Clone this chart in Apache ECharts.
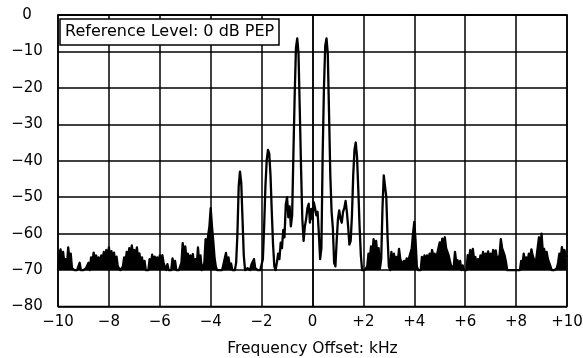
<!DOCTYPE html>
<html>
<head>
<meta charset="utf-8">
<script src="https://cdn.jsdelivr.net/npm/echarts@6/dist/echarts.min.js"></script>
<style>
html,body{margin:0;padding:0;background:#fff;}
#chart{width:583px;height:358px;}
</style>
</head>
<body>
<div id="chart"></div>
<script>
// Frequency grid of the trace (kHz): first sample and spacing
const freqStart = -10;
const freqStep = 0.05;

const levelDb = [
  -70, -66, -64.3, -67, -65, -68, -67, -69, -63.8, -67,
  -65.5, -69.5, -70, -70, -69.5, -70, -70, -68, -70, -70,
  -70, -70, -69.5, -70, -68, -70, -66.5, -68, -65.2, -67,
  -66, -68, -66.5, -69, -66, -67.5, -65, -67, -64.5, -66.5,
  -63.8, -66.5, -64.8, -67, -65.2, -68, -66.3, -69, -69.5, -70,
  -70, -69, -66.5, -68, -65, -67, -64, -66, -63.2, -66,
  -64.5, -66.5, -63.8, -67, -65.4, -68, -66.5, -69, -67.5, -70,
  -70, -70, -67, -68.5, -65.8, -68, -66.3, -68, -66.5, -68,
  -66, -67.5, -65.9, -68, -68.5, -70, -68.4, -70, -69.5, -70,
  -66.8, -69, -67.5, -70, -70, -70, -69, -68, -62.6, -66,
  -63.5, -67, -65.5, -68, -66, -68, -65.6, -69, -67, -69,
  -63.8, -68, -66, -70, -69, -68, -61.5, -64, -60.5, -58,
  -53, -58, -62, -66.5, -69, -70, -69.5, -70, -70, -70,
  -68.5, -69, -65.3, -68, -66.5, -69, -68.2, -70, -70, -70,
  -68, -60, -47, -43, -46, -56, -66, -70, -70, -69.5,
  -70, -70, -68.5, -69, -67, -69.5, -69.5, -70, -70, -70,
  -70, -67, -58, -47, -40, -37, -38, -44, -54, -63,
  -69, -70, -68, -65.5, -67, -62.5, -64, -59, -61, -52,
  -50, -55.5, -52.5, -58, -55, -38, -22, -9, -6.4, -10.5,
  -26, -42, -56, -62, -58, -56, -53, -51.8, -57, -53.2,
  -56, -51.4, -53, -55, -54, -60, -67, -64, -38, -20,
  -8.5, -6.4, -10.5, -27, -44, -54, -58.5, -68, -69, -62,
  -56, -53.6, -56, -57, -54, -53, -51, -54, -58, -63,
  -62, -55, -44, -37, -35, -39, -48, -58, -66, -70,
  -70, -70, -70, -69, -65.5, -67, -63.5, -66, -61.5, -64,
  -62, -66, -64, -69.5, -67, -53, -44, -43.5, -50, -61,
  -69, -70, -65, -67.5, -65.5, -68, -66.4, -68, -64.2, -67,
  -66.8, -68.5, -67.5, -68.5, -66.8, -68, -66.5, -67, -64, -60,
  -56.8, -62, -69, -70, -69.5, -70, -66.4, -68, -66, -68,
  -66, -67.5, -65.5, -67, -64.5, -66.5, -65.5, -67, -65.5, -66,
  -62.4, -64, -61.4, -63, -61, -64, -63.8, -66, -66, -69,
  -68.7, -69, -65, -68, -67.3, -69, -67.5, -70, -68.7, -70,
  -70, -70, -65.9, -67, -64.5, -66, -64.2, -67, -66.4, -69,
  -67, -68, -66, -67.5, -65, -67, -65.5, -66.5, -64.9, -67,
  -65.5, -67, -64.5, -66, -64.6, -67, -67, -66, -61.5, -64,
  -63.5, -66, -67.7, -70, -70, -70, -69.8, -70, -70, -70,
  -70, -70, -70, -70, -67.5, -68.5, -65.5, -68, -66.5, -68,
  -65.5, -67, -64.3, -66, -67, -69, -66.5, -66, -61, -64,
  -60, -65, -64.2, -66, -65, -67, -67.3, -69, -70, -70,
  -70, -70, -69.5, -68, -65.5, -67, -63.7, -66, -64.5, -66,
  -66.4
];

// Axis ranges and tick labels
const xTickValues = [-10, -8, -6, -4, -2, 0, 2, 4, 6, 8, 10];
const xTickLabels = ['\u221210', '\u22128', '\u22126', '\u22124', '\u22122', '0', '+2', '+4', '+6', '+8', '+10'];
const yTickValues = [-80, -70, -60, -50, -40, -30, -20, -10, 0];
const yTickLabels = ['\u221280', '\u221270', '\u221260', '\u221250', '\u221240', '\u221230', '\u221220', '\u221210', '0'];

const boxText = 'Reference Level: 0 dB PEP';
const xAxisTitle = 'Frequency Offset: kHz';

// Style: the dense noise floor prints as solid black; the sidebands are drawn as outlines only.
const noiseFloorDb = -70;
const outlineOnlyRanges = [[-3.05, -2.66], [-2.02, 2.0], [2.68, 3.0]];

const seriesData = levelDb.map((v, i) => [freqStart + i * freqStep, v]);
const xMin = -10, xMax = 10;

function fillGradient() {
  const stops = [];
  const off = f => (f - xMin) / (xMax - xMin);
  stops.push({ offset: 0, color: '#000' });
  outlineOnlyRanges.forEach(([a, b]) => {
    stops.push({ offset: off(a), color: '#000' });
    stops.push({ offset: off(a), color: 'rgba(0,0,0,0)' });
    stops.push({ offset: off(b), color: 'rgba(0,0,0,0)' });
    stops.push({ offset: off(b), color: '#000' });
  });
  stops.push({ offset: 1, color: '#000' });
  return new echarts.graphic.LinearGradient(0, 0, 1, 0, stops);
}

const FONT = 'DejaVu Sans';

const chart = echarts.init(document.getElementById('chart'), null, { renderer: 'canvas' });
chart.setOption({
  animation: false,
  backgroundColor: '#fff',
  title: {
    text: boxText,
    left: 60,
    top: 19,
    padding: [5, 5, 5, 5],
    borderColor: '#000',
    borderWidth: 1.5,
    backgroundColor: '#fff',
    textStyle: { fontFamily: FONT, fontSize: 16, fontWeight: 'normal', color: '#000' },
    z: 10
  },
  grid: {
    left: 58, right: 16, top: 15, bottom: 51.5,
    containLabel: false,
    outerBoundsMode: 'none',
    show: true, borderColor: '#000', borderWidth: 1.5, backgroundColor: 'transparent'
  },
  xAxis: {
    type: 'value',
    min: xMin, max: xMax, interval: 2,
    name: xAxisTitle,
    nameLocation: 'middle',
    nameGap: 34,
    nameTextStyle: { fontFamily: FONT, fontSize: 15.5, color: '#000' },
    axisLine: { show: true, lineStyle: { color: '#000', width: 1.5 } },
    axisTick: { show: false },
    splitLine: { show: true, lineStyle: { color: '#000', width: 1.5 } },
    axisLabel: {
      margin: 8,
      fontFamily: FONT, fontSize: 15, color: '#000',
      formatter: v => { const k = xTickValues.indexOf(Math.round(v)); return k >= 0 ? xTickLabels[k] : ''; }
    }
  },
  yAxis: {
    type: 'value',
    min: -80, max: 0, interval: 10,
    axisLine: { show: true, lineStyle: { color: '#000', width: 1.5 } },
    axisTick: { show: false },
    splitLine: { show: true, lineStyle: { color: '#000', width: 1.5 } },
    axisLabel: {
      margin: 31,
      align: 'center',
      fontFamily: FONT, fontSize: 15, color: '#000',
      formatter: v => { const k = yTickValues.indexOf(Math.round(v)); return k >= 0 ? yTickLabels[k] : ''; }
    }
  },
  series: [{
    type: 'line',
    data: seriesData,
    showSymbol: false,
    symbol: 'none',
    lineStyle: { color: '#000', width: 2.3, join: 'round' },
    areaStyle: { origin: noiseFloorDb, color: fillGradient(), opacity: 1 },
    z: 5
  }]
});
</script>
</body>
</html>
